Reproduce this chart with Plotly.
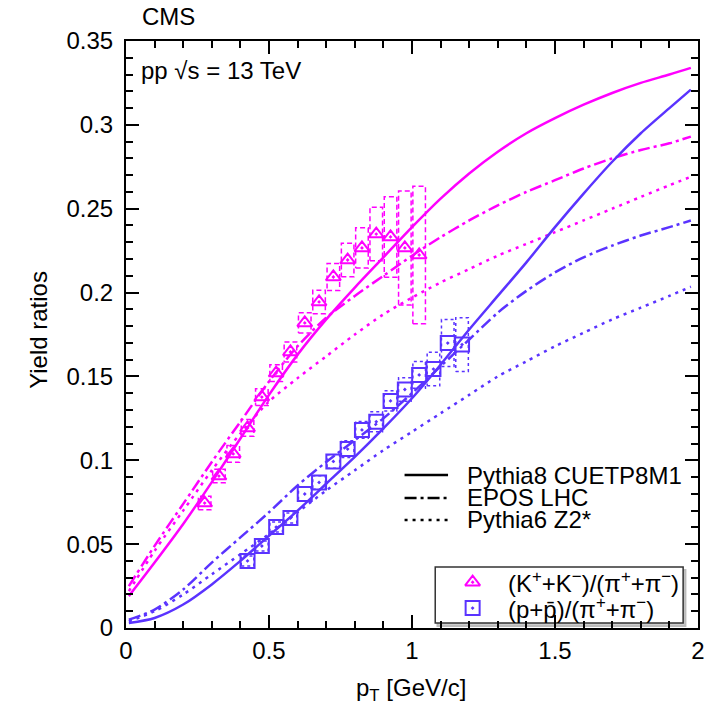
import plotly.graph_objects as go

# ---------------- data ----------------
pt_K = [0.275, 0.325, 0.375, 0.425, 0.475, 0.525, 0.575, 0.625, 0.675, 0.725,
        0.775, 0.825, 0.875, 0.925, 0.975, 1.025]
K_ratio = [0.0745, 0.0906, 0.1038, 0.1193, 0.1377, 0.1520, 0.1646, 0.1819, 0.1944, 0.2093,
           0.2194, 0.2266, 0.2349, 0.2332, 0.2266, 0.2224]
K_sys = [0.004, 0.004, 0.005, 0.005, 0.005, 0.005, 0.006, 0.006, 0.007, 0.008,
         0.010, 0.012, 0.016, 0.024, 0.034, 0.041]

pt_P = [0.425, 0.475, 0.525, 0.575, 0.625, 0.675, 0.725, 0.775, 0.825, 0.875,
        0.925, 0.975, 1.025, 1.075, 1.125, 1.175]
P_ratio = [0.0400, 0.0489, 0.0602, 0.0656, 0.0799, 0.0868, 0.0993, 0.1067, 0.1181, 0.1230,
           0.1354, 0.1422, 0.1509, 0.1544, 0.1699, 0.1690]
P_sys = [0.003, 0.003, 0.003, 0.003, 0.004, 0.004, 0.004, 0.005, 0.005, 0.006,
         0.006, 0.007, 0.008, 0.010, 0.014, 0.016]

pt_model = [0.01, 0.1, 0.2, 0.3, 0.4, 0.5, 0.6, 0.7, 0.8, 0.9, 1.0,
            1.1, 1.2, 1.3, 1.4, 1.5, 1.6, 1.7, 1.8, 1.9, 1.975]
K_pythia8 = [0.019, 0.039, 0.062, 0.087, 0.113, 0.139, 0.163, 0.184, 0.203, 0.221, 0.239,
             0.256, 0.271, 0.284, 0.295, 0.304, 0.312, 0.319, 0.325, 0.330, 0.334]
K_epos = [0.025, 0.049, 0.074, 0.099, 0.123, 0.147, 0.168, 0.185, 0.198, 0.210, 0.222,
          0.233, 0.243, 0.252, 0.260, 0.267, 0.274, 0.280, 0.285, 0.289, 0.293]
K_pythia6 = [0.022, 0.046, 0.070, 0.094, 0.116, 0.135, 0.149, 0.162, 0.175, 0.187, 0.197,
             0.206, 0.214, 0.222, 0.229, 0.236, 0.243, 0.250, 0.257, 0.264, 0.269]
P_pythia8 = [0.003, 0.006, 0.014, 0.026, 0.040, 0.055, 0.070, 0.086, 0.102, 0.119, 0.137,
             0.157, 0.178, 0.198, 0.218, 0.239, 0.259, 0.278, 0.295, 0.310, 0.321]
P_epos = [0.005, 0.011, 0.023, 0.039, 0.054, 0.069, 0.085, 0.099, 0.112, 0.125, 0.140,
          0.156, 0.172, 0.188, 0.201, 0.212, 0.221, 0.228, 0.234, 0.239, 0.243]
P_pythia6 = [0.004, 0.010, 0.020, 0.032, 0.044, 0.056, 0.069, 0.082, 0.094, 0.106, 0.117,
             0.128, 0.139, 0.150, 0.159, 0.168, 0.176, 0.184, 0.191, 0.198, 0.2035]

model_names = ["Pythia8 CUETP8M1", "EPOS LHC", "Pythia6 Z2*"]
ratio_names = ["(K<sup>+</sup>+K<sup>\u2212</sup>)/(\u03c0<sup>+</sup>+\u03c0<sup>\u2212</sup>)",
               "(p+p\u0304)/(\u03c0<sup>+</sup>+\u03c0<sup>\u2212</sup>)"]

# ---------------- styles ----------------
MAG = "#ff00ff"
BLU = "#5a33ff"
FONT = "Liberation Sans, Arial, Helvetica, sans-serif"
DASHES = ["solid", "12px,4px,3px,4px", "3px,5px"]
BOX_HW = 0.022


def box_path(xs, ys, errs):
    bx, by = [], []
    for x, y, e in zip(xs, ys, errs):
        bx += [x - BOX_HW, x + BOX_HW, x + BOX_HW, x - BOX_HW, x - BOX_HW, None]
        by += [y - e, y - e, y + e, y + e, y - e, None]
    return bx, by


fig = go.Figure()

# model curves
for ys, dash in zip([K_pythia8, K_epos, K_pythia6], DASHES):
    fig.add_trace(go.Scatter(x=pt_model, y=ys, mode="lines", showlegend=False,
                             line=dict(color=MAG, width=2.5, dash=dash, shape="spline",
                                       smoothing=0.8)))
for ys, dash in zip([P_pythia8, P_epos, P_pythia6], DASHES):
    fig.add_trace(go.Scatter(x=pt_model, y=ys, mode="lines", showlegend=False,
                             line=dict(color=BLU, width=2.5, dash=dash, shape="spline",
                                       smoothing=0.8)))

# systematic boxes
bx, by = box_path(pt_K, K_ratio, K_sys)
fig.add_trace(go.Scatter(x=bx, y=by, mode="lines", showlegend=False,
                         line=dict(color=MAG, width=1.5, dash="5px,3px")))
bx, by = box_path(pt_P, P_ratio, P_sys)
fig.add_trace(go.Scatter(x=bx, y=by, mode="lines", showlegend=False,
                         line=dict(color=BLU, width=1.5, dash="3px,3px")))

# data points
fig.add_trace(go.Scatter(x=pt_K, y=K_ratio, mode="markers", showlegend=False,
                         marker=dict(symbol="triangle-up-open-dot", size=13, color=MAG,
                                     line=dict(width=2, color=MAG))))
fig.add_trace(go.Scatter(x=pt_P, y=P_ratio, mode="markers", showlegend=False,
                         marker=dict(symbol="square-open-dot", size=14, color=BLU,
                                     line=dict(width=2, color=BLU))))

# legend markers on a hidden overlay axis (fractions of plot area)
fig.add_trace(go.Scatter(x=[0.606], y=[0.078], mode="markers", showlegend=False,
                         xaxis="x2", yaxis="y2",
                         marker=dict(symbol="triangle-up-open-dot", size=13, color=MAG,
                                     line=dict(width=2, color=MAG))))
fig.add_trace(go.Scatter(x=[0.606], y=[0.034], mode="markers", showlegend=False,
                         xaxis="x2", yaxis="y2",
                         marker=dict(symbol="square-open-dot", size=14, color=BLU,
                                     line=dict(width=2, color=BLU))))

shapes = []
annotations = []
# line legend (no box)
leg_y = [0.2606, 0.2215, 0.184]
for name, dash, yy in zip(model_names, DASHES, leg_y):
    shapes.append(dict(type="line", xref="paper", yref="paper", x0=0.487, x1=0.563,
                       y0=yy, y1=yy, line=dict(color="black", width=2.5, dash=dash)))
    annotations.append(dict(text=name, xref="paper", yref="paper", x=0.592, y=yy,
                            xanchor="left", yanchor="middle", showarrow=False,
                            font=dict(size=24, color="black", family=FONT)))
# marker legend box (with a faint shadow)
shapes.append(dict(type="rect", xref="paper", yref="paper", x0=0.5446, x1=0.978,
                   y0=0.0035, y1=0.099, line=dict(color="#bbbbbb", width=2),
                   fillcolor="#cccccc", layer="below"))
shapes.append(dict(type="rect", xref="paper", yref="paper", x0=0.5406, x1=0.974,
                   y0=0.0085, y1=0.104, line=dict(color="#333333", width=1.5),
                   fillcolor="white", layer="below"))
for name, yy in zip(ratio_names, [0.078, 0.034]):
    annotations.append(dict(text=name, xref="paper", yref="paper", x=0.664, y=yy,
                            xanchor="left", yanchor="middle", showarrow=False,
                            font=dict(size=24, color="black", family=FONT)))

annotations += [
    dict(text="CMS", xref="paper", yref="paper", x=0.024, y=1.041, xanchor="left",
         yanchor="middle", showarrow=False, font=dict(size=24, color="black", family=FONT)),
    dict(text="pp \u221as = 13 TeV", xref="paper", yref="paper", x=0.0225, y=0.949,
         xanchor="left", yanchor="middle", showarrow=False,
         font=dict(size=24, color="black", family=FONT)),
    dict(text="Yield ratios", xref="paper", yref="paper", x=-0.152, y=0.508,
         xanchor="center", yanchor="middle", textangle=-90, showarrow=False,
         font=dict(size=24, color="black", family=FONT)),
    dict(text="p<sub>T</sub> [GeV/c]", xref="paper", yref="paper", x=0.499, y=-0.1056,
         xanchor="center", yanchor="middle", showarrow=False,
         font=dict(size=24, color="black", family=FONT)),
]

axis_common = dict(showgrid=False, zeroline=False, showline=True, linecolor="black",
                   linewidth=2, mirror="ticks", ticks="inside", tickcolor="black",
                   tickwidth=1.5, ticklen=13,
                   tickfont=dict(size=24, color="black", family=FONT))

fig.update_layout(
    width=714, height=707,
    margin=dict(l=126, r=9, t=41, b=79),
    paper_bgcolor="white", plot_bgcolor="white",
    showlegend=False,
    xaxis=dict(range=[0, 2], tickvals=[0, 0.5, 1, 1.5, 2], ticktext=["0", "0.5", "1", "1.5", "2"],
               minor=dict(ticks="inside", dtick=0.1, ticklen=7, tickcolor="black", tickwidth=1.5),
               **axis_common),
    yaxis=dict(range=[0, 0.35], tickvals=[0, 0.05, 0.1, 0.15, 0.2, 0.25, 0.3, 0.35],
               ticktext=["0", "0.05", "0.1", "0.15", "0.2", "0.25", "0.3", "0.35"],
               minor=dict(ticks="inside", dtick=0.01, ticklen=7, tickcolor="black", tickwidth=1.5),
               ticklabelstandoff=6,
               **axis_common),
    xaxis2=dict(range=[0, 1], overlaying="x", visible=False, anchor="y2"),
    yaxis2=dict(range=[0, 1], overlaying="y", visible=False, anchor="x2"),
    shapes=shapes,
    annotations=annotations,
)

fig.write_html("out.html")
